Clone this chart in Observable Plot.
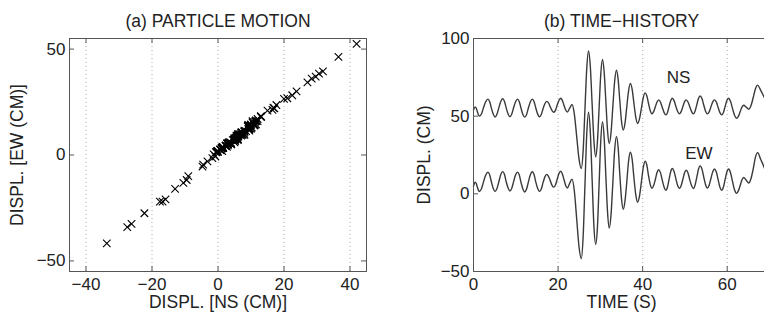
<!DOCTYPE html>
<html><head><meta charset="utf-8">
<script src="https://cdn.jsdelivr.net/npm/d3@7"></script>
<script src="https://cdn.jsdelivr.net/npm/@observablehq/plot@0.6"></script>
<style>
html,body{margin:0;padding:0;background:#fff;overflow:hidden;}
#wrap{position:relative;width:764px;height:322px;overflow:hidden;background:#fff;}
#left,#right{position:absolute;top:0;}
#left{left:0;width:382px;}
#right{left:382px;width:387px;}
svg{max-width:none !important;}
</style></head><body><div id="wrap"><div id="left"></div><div id="right"></div></div>
<script>
// Time samples (s) and displacements (cm); NS shown offset by +50 in the time history
const time = [0,0.4,0.65,0.9,1.15,1.4,1.9,2.4,2.9,3.4,3.83,4.25,4.68,5.1,5.55,6.0,6.45,6.9,7.33,7.75,8.18,8.6,9.05,9.5,9.95,10.4,10.83,11.25,11.68,12.1,12.55,13.0,13.45,13.9,14.33,14.75,15.18,15.6,16.03,16.45,16.88,17.3,17.73,18.15,18.58,19.0,19.4,19.8,20.2,20.6,21.0,21.4,21.8,22.2,22.75,23.3,23.85,24.4,24.95,25.5,25.93,26.35,26.78,27.2,27.63,28.05,28.48,28.9,29.3,29.7,30.1,30.5,30.9,31.3,31.7,32.1,32.53,32.95,33.38,33.8,34.2,34.6,35.0,35.4,35.83,36.25,36.68,37.1,37.53,37.95,38.38,38.8,39.25,39.7,40.15,40.6,41.0,41.4,41.8,42.2,42.6,43.0,43.4,43.8,44.23,44.65,45.08,45.5,45.88,46.25,46.63,47.0,47.43,47.85,48.28,48.7,49.1,49.5,49.9,50.3,50.73,51.15,51.58,52.0,52.4,52.8,53.2,53.6,54.03,54.45,54.88,55.3,55.73,56.15,56.58,57.0,57.43,57.85,58.28,58.7,59.1,59.5,59.9,60.3,60.78,61.25,61.73,62.2,62.63,63.05,63.48,63.9,64.5,65.1,65.63,66.15,66.68,67.2,67.9,68.6,69.5];
const ns = [4.0,6.0,5.1,3.0,0.9,0.0,1.6,5.8,9.4,11.0,9.3,5.0,1.2,-0.5,1.3,5.5,9.5,11.2,9.5,5.2,1.4,-0.3,1.4,5.6,9.3,11.0,9.3,5.0,1.1,-0.6,1.1,5.4,9.3,11.0,9.3,5.1,1.3,-0.4,1.1,4.8,8.0,9.5,8.5,6.0,3.6,2.5,3.9,7.2,10.1,11.5,10.2,7.0,4.0,2.7,5.2,7.5,1.3,-13,-27.5,-33.7,-22.3,4,30.6,42,31.8,8,-15.9,-26.2,-16.8,5,27.1,36.5,28.4,9.5,-9.5,-17.6,-10.5,6,22.5,29.6,23.8,10,-3.2,-9,-4.5,6,16.5,21,17.1,8,-0.8,-4.7,-1.7,5,12.0,15,13.0,8,3.5,1.5,2.9,6,9.1,10.5,9.0,5.6,2.3,0.8,2.4,6.2,9.9,11.5,10.0,6.4,3.0,1.5,2.9,6.0,9.2,10.5,9.1,6.0,2.9,1.5,3.2,7.3,11.3,13,11.3,7.2,3.2,1.5,2.8,6.0,9.2,10.5,9.1,5.6,2.3,0.8,2.4,6.2,9.9,11.5,9.6,5.0,0.6,-1.3,-0.1,2.8,5.8,7,5.8,4.5,6.8,12,17.7,20,16.8,13,8];
const ew = [5.0,7.5,6.6,4.5,2.4,1.5,3.4,8.0,12.1,14.0,12.1,7.5,3.4,1.5,3.4,7.8,12.4,14.3,12.4,7.6,3.7,1.8,3.6,8.0,12.2,14.0,12.1,7.2,3.1,1.2,3.1,7.9,12.3,14.2,12.3,7.4,3.4,1.5,3.1,7.2,10.9,12.5,11.3,8.5,5.5,4.3,5.8,9.5,13.0,14.5,12.9,9.2,5.4,3.8,6.8,9.5,1.8,-16,-34,-41.7,-27.5,5,38.4,52.5,39.5,9.5,-21,-32.5,-22,6,34.3,46.3,36.1,11.5,-11.8,-22,-13.2,7,28.2,37,30,12.5,-3,-10,-4.5,7.5,21.3,26.8,22,10,-0.7,-5.5,-1.5,7.5,17.0,21,18.4,11.5,6.1,3.5,5.3,9.2,13.7,15.5,13.5,8.7,4.3,2.3,4.4,9.3,14.2,16.3,14.4,9.8,5.3,3.4,5.2,9.2,13.4,15.2,13.4,9.0,5.2,3.4,5.6,10.6,15.8,18,15.9,10.8,5.9,3.8,5.6,9.9,14.2,16,14.0,9.1,4.3,2.3,4.4,9.2,13.9,16,13.6,8.0,2.6,0.3,1.9,5.2,8.9,10.5,8.8,7,9.9,16,23.6,26.5,22.3,18,11];
const nsOffset = 50;

const pmXTicks = [-40,-20,0,20,40];
const pmYTicks = [-50,0,50];
const thXTicks = [0,20,40,60];
const thYTicks = [-50,0,50,100];
const titles = ["(a) PARTICLE MOTION", "(b) TIME\u2212HISTORY"];
const xLabels = ["DISPL. [NS (CM)]", "TIME (S)"];
const yLabels = ["DISPL. [EW (CM)]", "DISPL. (CM)"];
const seriesNames = ["NS", "EW"];
const seriesLabelT = [48.5, 53.3];
const seriesLabelV = [75, 26];

const font = "'Liberation Sans', Arial, Helvetica, sans-serif";
const fmt = d3.format("d");
const ink = "#222";
const frameC = "#555";
const gridC = "#aaa";

function panel({width, height, mL, mR, mT, mB, xDomain, yDomain, xTicks, yTicks, xGrid, xTickMarks, yTickMarksRight, title, xLabel, yLabel, yLabelDx, marks}) {
  const innerW = width - mL - mR, innerH = height - mT - mB;
  const tickLen = 5;
  const m = [
    Plot.ruleX(xGrid, {x: d => d, stroke: gridC, strokeDasharray: "1,3", strokeWidth: 1}),
    Plot.tickX(xTickMarks, {x: d => d, stroke: frameC, insetTop: innerH - tickLen}),
    Plot.tickX(xTickMarks, {x: d => d, stroke: frameC, insetBottom: innerH - tickLen}),
    Plot.tickY(yTicks, {y: d => d, stroke: frameC, insetRight: innerW - tickLen}),
    ...(yTickMarksRight ? [Plot.tickY(yTicks, {y: d => d, stroke: frameC, insetLeft: innerW - tickLen})] : []),
    ...marks,
    Plot.frame({stroke: frameC, strokeWidth: 1}),
    Plot.text(xTicks, {x: d => d, text: fmt, frameAnchor: "bottom", dy: 13, lineAnchor: "middle", textAnchor: "middle", fontSize: 17, fill: ink}),
    Plot.text(yTicks, {y: d => d, text: fmt, frameAnchor: "left", dx: -4, lineAnchor: "middle", textAnchor: "end", fontSize: 17, fill: ink}),
    Plot.text([title], {text: d => d, frameAnchor: "top", dy: -17, lineAnchor: "middle", textAnchor: "middle", fontSize: 17.5, fill: ink}),
    Plot.text([xLabel], {text: d => d, frameAnchor: "bottom", dy: 31, lineAnchor: "middle", textAnchor: "middle", fontSize: 17.5, fill: ink}),
    Plot.text([yLabel], {text: d => d, frameAnchor: "left", dx: yLabelDx, rotate: -90, lineAnchor: "middle", textAnchor: "middle", fontSize: 17.5, fill: ink})
  ];
  return Plot.plot({
    width, height, marginLeft: mL, marginRight: mR, marginTop: mT, marginBottom: mB,
    style: {fontFamily: font, fontSize: "17px", color: ink, background: "transparent", overflow: "visible", maxWidth: "none"},
    x: {domain: xDomain, axis: null},
    y: {domain: yDomain, axis: null},
    marks: m
  });
}

// (a) particle motion
const pts = time.map((t, i) => ({ns: ns[i], ew: ew[i]}));
const left = panel({
  width: 382, height: 322, mL: 69, mR: 16, mT: 38, mB: 51,
  xDomain: [-45, 45], yDomain: [-55, 55],
  xTicks: pmXTicks, yTicks: pmYTicks, xGrid: pmXTicks, xTickMarks: pmXTicks, yTickMarksRight: true,
  title: titles[0], xLabel: xLabels[0], yLabel: yLabels[0], yLabelDx: -52,
  marks: [
    Plot.dot(pts, {x: "ns", y: "ew", symbol: "times", r: 3.5, stroke: "#000", strokeWidth: 1.1})
  ]
});
document.getElementById("left").appendChild(left);

// (b) time history
const series = [];
time.forEach((t, i) => series.push({t, v: ns[i] + nsOffset, s: "NS"}));
time.forEach((t, i) => series.push({t, v: ew[i], s: "EW"}));
const right = panel({
  width: 387, height: 322, mL: 91, mR: 0, mT: 38, mB: 51,
  xDomain: [0, 70], yDomain: [-50, 100],
  xTicks: thXTicks, yTicks: thYTicks, xGrid: thXTicks.filter(d => d > 0), xTickMarks: thXTicks, yTickMarksRight: false,
  title: titles[1], xLabel: xLabels[1], yLabel: yLabels[1], yLabelDx: -49,
  marks: [
    Plot.line(series, {x: "t", y: "v", z: "s", curve: "monotone-x", stroke: "#3a3a3a", strokeWidth: 1.4}),
    Plot.text(seriesNames, {x: (d, i) => seriesLabelT[i], y: (d, i) => seriesLabelV[i], text: d => d, fontSize: 17, fill: ink, lineAnchor: "middle", textAnchor: "middle"})
  ]
});
document.getElementById("right").appendChild(right);
</script></body></html>
